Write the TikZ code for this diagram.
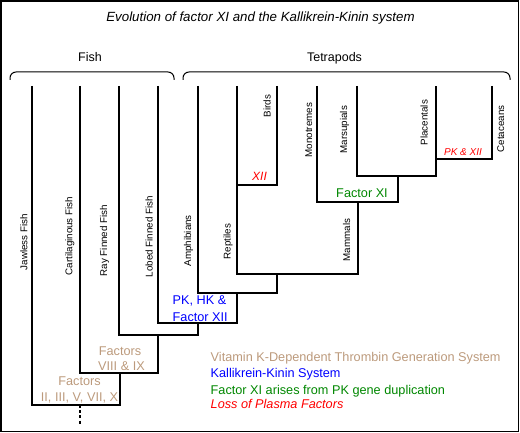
\documentclass[tikz,border=0pt]{standalone}
\usepackage{fontspec}
\setmainfont{Liberation Sans}
\definecolor{vitk}{RGB}{188,154,124}
\definecolor{kkgreen}{RGB}{0,135,0}

\begin{document}
\begin{tikzpicture}[x=1pt, y=-1pt, line width=1.4pt,
  leaf/.style={rotate=90, anchor=base west, inner sep=0pt, font=\fontsize{9.8}{11}\selectfont},
  txt/.style={inner sep=0pt, anchor=base, font=\fontsize{12.7}{15}\selectfont},
  loss/.style={txt, red, font=\fontsize{12}{14}\selectfont\itshape},
  brace/.style={line width=1pt, rounded corners=6pt}]
\useasboundingbox (0,0) rectangle (520,433);
\draw[line width=1.2pt] (1,1) rectangle (518.6,431.6);
\pgfmathsetmacro\yt{86}

\node[txt, font=\fontsize{13.3}{16}\selectfont\itshape] (title) at (260.5,22) {Evolution of factor XI and the Kallikrein-Kinin system};

\draw[brace] (10,80) -- (10,72) -- (174,72) -- (174,80);
\draw[brace] (183,80) -- (183,72) -- (510,72) -- (510,80);
\node[txt, font=\fontsize{12.5}{15}\selectfont] (fish) at (90,62) {Fish};
\node[txt, font=\fontsize{12.5}{15}\selectfont] (tetrapods) at (334.5,62) {Tetrapods};

\coordinate (jawless) at (32,\yt);
\coordinate (cart) at (80,\yt);
\coordinate (ray) at (119,\yt);
\coordinate (lobed) at (158,\yt);
\coordinate (amph) at (198,\yt);
\coordinate (rept) at (237,\yt);
\coordinate (birds) at (277,\yt);
\coordinate (mono) at (317,\yt);
\coordinate (mars) at (357,\yt);
\coordinate (plac) at (436,\yt);
\coordinate (ceta) at (492,\yt);

\coordinate (root) at (80,405);
\coordinate (gna) at (120,373);
\coordinate (ost) at (158,335);
\coordinate (sar) at (198,323);
\coordinate (tet) at (237,293);
\coordinate (amn) at (277,274);
\coordinate (av) at (237,185);
\coordinate (mam) at (358,202);
\coordinate (ther) at (398,176);
\coordinate (pc) at (436,159);
\coordinate (stub) at (80,424);

\draw (jawless) |- (root -| gna) -- (gna);
\draw (cart) |- (gna -| ost) -- (ost);
\draw (ray) |- (ost -| sar) -- (sar);
\draw (lobed) |- (sar -| tet) -- (tet);
\draw (amph) |- (tet -| amn) -- (amn);
\draw (rept) |- (amn -| mam) -- (mam);
\draw (birds) |- (av);
\draw (mono) |- (mam -| ther) -- (ther);
\draw (mars) |- (ther -| plac) -- (plac);
\draw (ceta) |- (pc);
\draw[line width=1.2pt, dash pattern=on 3pt off 2.2pt] (root) -- (stub);

\node[leaf] (l-jawless) at (27.3,271) {Jawless Fish};
\node[leaf] (l-cart) at (72.3,276) {Cartilaginous Fish};
\node[leaf] (l-ray) at (107,277) {Ray Finned Fish};
\node[leaf] (l-lobed) at (152.7,278) {Lobed Finned Fish};
\node[leaf] (l-amph) at (191,267) {Amphibians};
\node[leaf] (l-rept) at (230.5,260) {Reptiles};
\node[leaf] (l-birds) at (270.7,118) {Birds};
\node[leaf] (l-mono) at (312,158) {Monotremes};
\node[leaf] (l-mars) at (347,154) {Marsupials};
\node[leaf] (l-plac) at (427.7,146) {Placentals};
\node[leaf] (l-ceta) at (504,153) {Cetaceans};
\node[leaf] (l-mam) at (350,262) {Mammals};

\node[loss] (xii) at (259.5,181) {XII};
\node[loss, font=\fontsize{10}{12}\selectfont\itshape] (pkxii) at (463,156) {PK \& XII};
\node[txt, kkgreen] (fxi) at (362,198) {Factor XI};
\node[txt, blue, anchor=base west] (pkhk) at (172,305) {PK, HK \&};
\node[txt, blue, anchor=base west] (fxii) at (172,321.7) {Factor XII};
\node[txt, vitk] (fac2) at (120,355) {Factors};
\node[txt, vitk] (viii) at (121.5,370) {VIII \& IX};
\node[txt, vitk] (fac1) at (79.5,385) {Factors};
\node[txt, vitk] (ii) at (79.5,401.7) {II, III, V, VII, X};

\node[txt, vitk, anchor=base west] (key1) at (210,361.7) {Vitamin K-Dependent Thrombin Generation System};
\node[txt, blue, anchor=base west] (key2) at (210,377.7) {Kallikrein-Kinin System};
\node[txt, kkgreen, anchor=base west] (key3) at (210,394) {Factor XI arises from PK gene duplication};
\node[loss, font=\fontsize{12.7}{15}\selectfont\itshape, anchor=base west] (key4) at (210,408) {Loss of Plasma Factors};
\end{tikzpicture}
\end{document}
